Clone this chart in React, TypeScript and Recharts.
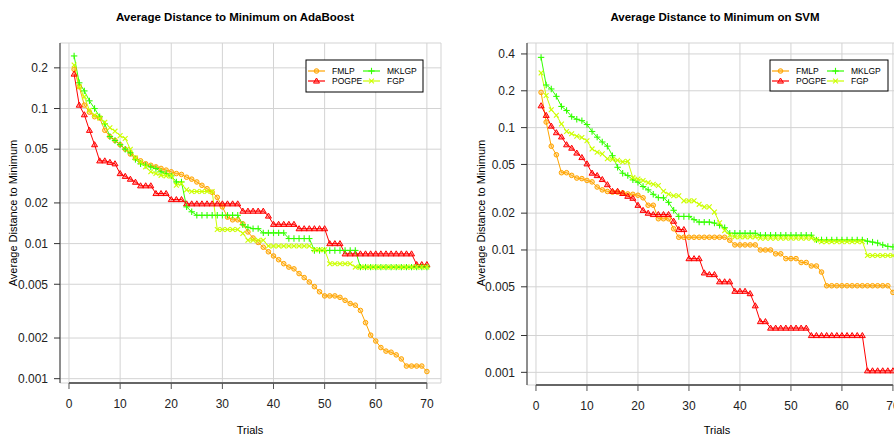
import * as React from 'react';
import { LineChart, Line, XAxis, YAxis, CartesianGrid, ReferenceLine } from 'recharts';

// Trials 1..70 and the four methods
const trials = [
  1, 2, 3, 4, 5, 6, 7, 8, 9, 10, 11, 12, 13, 14, 15, 16, 17, 18, 19, 20,
  21, 22, 23, 24, 25, 26, 27, 28, 29, 30, 31, 32, 33, 34, 35, 36, 37, 38, 39, 40,
  41, 42, 43, 44, 45, 46, 47, 48, 49, 50, 51, 52, 53, 54, 55, 56, 57, 58, 59, 60,
  61, 62, 63, 64, 65, 66, 67, 68, 69, 70,
];
const xTicks = [0, 10, 20, 30, 40, 50, 60, 70];

// AdaBoost
const adaFMLP = [
  0.195, 0.145, 0.106, 0.094, 0.087, 0.085, 0.069, 0.062, 0.058, 0.054,
  0.05, 0.046, 0.043, 0.041, 0.039, 0.038, 0.037, 0.036, 0.035, 0.034,
  0.033, 0.0325, 0.031, 0.03, 0.0286, 0.027, 0.0255, 0.024, 0.022, 0.0187,
  0.0157, 0.015, 0.015, 0.014, 0.0122, 0.011, 0.0102, 0.0094, 0.0087, 0.0081,
  0.0076, 0.0071, 0.0067, 0.0065, 0.006, 0.0056, 0.0052, 0.0048, 0.0044, 0.0041,
  0.0041, 0.0041, 0.004, 0.0038, 0.0036, 0.0035, 0.0032, 0.0026, 0.0021, 0.0019,
  0.0017, 0.0016, 0.00157, 0.0015, 0.0014, 0.00124, 0.00124, 0.00124, 0.00124, 0.00113,
];
const adaPOGPE = [
  0.18, 0.106, 0.09, 0.069, 0.054, 0.041, 0.041, 0.04, 0.039, 0.033,
  0.0315, 0.03, 0.0285, 0.0268, 0.0268, 0.0268, 0.0235, 0.0235, 0.0235, 0.0212,
  0.0212, 0.0212, 0.0197, 0.0197, 0.0197, 0.0197, 0.0197, 0.0197, 0.0197, 0.0197,
  0.0197, 0.0197, 0.0197, 0.0174, 0.0174, 0.0174, 0.0174, 0.0174, 0.016, 0.0139,
  0.0139, 0.0139, 0.0139, 0.0139, 0.0129, 0.0129, 0.0129, 0.0129, 0.0129, 0.0129,
  0.01, 0.01, 0.01, 0.0084, 0.0084, 0.0084, 0.0084, 0.0084, 0.0084, 0.0084,
  0.0084, 0.0084, 0.0084, 0.0084, 0.0084, 0.0084, 0.0084, 0.007, 0.007, 0.007,
];
const adaMKLGP = [
  0.245, 0.155, 0.135, 0.114, 0.1, 0.087, 0.077, 0.062, 0.058, 0.054,
  0.05, 0.047, 0.042, 0.039, 0.038, 0.037, 0.036, 0.034, 0.033, 0.0317,
  0.0286, 0.0286, 0.0187, 0.0172, 0.0162, 0.0162, 0.0162, 0.0162, 0.0162, 0.0162,
  0.0162, 0.0162, 0.0162, 0.0138, 0.0132, 0.0129, 0.0129, 0.012, 0.012, 0.012,
  0.012, 0.012, 0.0109, 0.0109, 0.0109, 0.0109, 0.0109, 0.0089, 0.0089, 0.0089,
  0.0089, 0.0089, 0.0089, 0.0089, 0.0089, 0.0089, 0.0067, 0.0067, 0.0067, 0.0067,
  0.0067, 0.0067, 0.0067, 0.0067, 0.0067, 0.0067, 0.0067, 0.0067, 0.0067, 0.0067,
];
const adaFGP = [
  0.21, 0.145, 0.122, 0.097, 0.089, 0.085, 0.079, 0.072, 0.068, 0.063,
  0.06, 0.05, 0.043, 0.04, 0.037, 0.034, 0.033, 0.032, 0.0317, 0.0317,
  0.027, 0.0278, 0.025, 0.0243, 0.0243, 0.0243, 0.0243, 0.0243, 0.0127, 0.0127,
  0.0127, 0.0127, 0.0127, 0.0119, 0.0106, 0.0106, 0.0106, 0.0106, 0.0096, 0.0096,
  0.0096, 0.0096, 0.0096, 0.0096, 0.0096, 0.0096, 0.0096, 0.009, 0.009, 0.009,
  0.0071, 0.0071, 0.0071, 0.0071, 0.0071, 0.0067, 0.0067, 0.0067, 0.0067, 0.0067,
  0.0067, 0.0067, 0.0067, 0.0067, 0.0067, 0.0067, 0.0067, 0.0067, 0.0067, 0.0067,
];

// SVM
const svmFMLP = [
  0.194, 0.111, 0.0705, 0.06, 0.0428, 0.0428, 0.0407, 0.0387, 0.0383, 0.037,
  0.036, 0.0327, 0.031, 0.0301, 0.0297, 0.0297, 0.0293, 0.0287, 0.0285, 0.028,
  0.0267, 0.0232, 0.0232, 0.018, 0.018, 0.018, 0.0149, 0.0127, 0.0127, 0.0127,
  0.0127, 0.0127, 0.0127, 0.0127, 0.0127, 0.0127, 0.0127, 0.012, 0.011, 0.011,
  0.011, 0.011, 0.011, 0.01, 0.01, 0.01, 0.0093, 0.0093, 0.0085, 0.0085,
  0.0085, 0.0079, 0.0079, 0.0074, 0.0074, 0.0066, 0.0051, 0.0051, 0.0051, 0.0051,
  0.0051, 0.0051, 0.0051, 0.0051, 0.0051, 0.0051, 0.0051, 0.0051, 0.0051, 0.0045,
];
const svmPOGPE = [
  0.151, 0.126, 0.103, 0.091, 0.084, 0.0725, 0.068, 0.062, 0.057, 0.0506,
  0.0425, 0.0406, 0.0377, 0.0342, 0.0302, 0.0302, 0.029, 0.0275, 0.0265, 0.0232,
  0.0211, 0.02, 0.0195, 0.0195, 0.0195, 0.0195, 0.0172, 0.0147, 0.0147, 0.0085,
  0.0085, 0.0085, 0.0065, 0.0063, 0.0063, 0.0055, 0.0055, 0.0055, 0.0046, 0.0046,
  0.0046, 0.0044, 0.0035, 0.0026, 0.0026, 0.0023, 0.0023, 0.0023, 0.0023, 0.0023,
  0.0023, 0.0023, 0.0023, 0.002, 0.002, 0.002, 0.002, 0.002, 0.002, 0.002,
  0.002, 0.002, 0.002, 0.002, 0.00103, 0.00103, 0.00103, 0.00103, 0.00103, 0.00103,
];
const svmMKLGP = [
  0.375, 0.223, 0.207, 0.18, 0.149, 0.138, 0.123, 0.117, 0.114, 0.106,
  0.093, 0.0836, 0.0763, 0.0705, 0.059, 0.0474, 0.0424, 0.0406, 0.0374, 0.0358,
  0.033, 0.031, 0.0285, 0.0268, 0.0267, 0.0245, 0.0211, 0.0188, 0.0188, 0.0188,
  0.0177, 0.0169, 0.0169, 0.0169, 0.0166, 0.0159, 0.0152, 0.0137, 0.0137, 0.0137,
  0.0137, 0.0137, 0.0137, 0.0132, 0.0132, 0.0132, 0.0132, 0.0132, 0.0132, 0.0132,
  0.0132, 0.0132, 0.0132, 0.0132, 0.0121, 0.0121, 0.0121, 0.0121, 0.0121, 0.0121,
  0.0121, 0.0121, 0.0121, 0.0121, 0.0118, 0.0116, 0.0114, 0.011, 0.0107, 0.0106,
];
const svmFGP = [
  0.28, 0.183, 0.14, 0.126, 0.107, 0.093, 0.089, 0.085, 0.083, 0.078,
  0.067, 0.063, 0.061, 0.0556, 0.055, 0.054, 0.0525, 0.053, 0.039, 0.038,
  0.037, 0.0355, 0.0344, 0.0337, 0.0302, 0.0285, 0.0277, 0.0277, 0.0252, 0.0252,
  0.0252, 0.0236, 0.0225, 0.0225, 0.0204, 0.0167, 0.0144, 0.0132, 0.0128, 0.0128,
  0.0128, 0.0128, 0.0128, 0.0125, 0.0125, 0.0125, 0.0125, 0.0125, 0.0125, 0.0125,
  0.0125, 0.0125, 0.0125, 0.0125, 0.0121, 0.0117, 0.0117, 0.0117, 0.0117, 0.0117,
  0.0117, 0.0117, 0.0117, 0.0117, 0.009, 0.009, 0.009, 0.009, 0.009, 0.009,
];

const adaTicks = [0.001, 0.002, 0.005, 0.01, 0.02, 0.05, 0.1, 0.2];
const svmTicks = [0.001, 0.002, 0.005, 0.01, 0.02, 0.05, 0.1, 0.2, 0.4];

const FONT = '"Liberation Sans", Arial, Helvetica, sans-serif';

const series = [
  { key: 'FMLP', color: '#FFA500', shape: 'circle' },
  { key: 'POGPE', color: '#FF0000', shape: 'triangle' },
  { key: 'MKLGP', color: '#33FF00', shape: 'plus' },
  { key: 'FGP', color: '#CCFF00', shape: 'cross' },
];

function Marker({ shape, color, cx, cy }: { shape: string; color: string; cx: number; cy: number }) {
  if (shape === 'circle') {
    return <circle cx={cx} cy={cy} r={2.3} fill={color} fillOpacity={0.35} stroke={color} strokeWidth={1} />;
  }
  if (shape === 'triangle') {
    const s = 3;
    return (
      <polygon
        points={`${cx},${cy - s} ${cx - s},${cy + s * 0.7} ${cx + s},${cy + s * 0.7}`}
        fill={color}
        fillOpacity={0.35}
        stroke={color}
        strokeWidth={1}
      />
    );
  }
  if (shape === 'plus') {
    const s = 3.2;
    return (
      <g stroke={color} strokeWidth={1.1}>
        <line x1={cx - s} y1={cy} x2={cx + s} y2={cy} />
        <line x1={cx} y1={cy - s} x2={cx} y2={cy + s} />
      </g>
    );
  }
  const s = 2.4;
  return (
    <g stroke={color} strokeWidth={1.1}>
      <line x1={cx - s} y1={cy - s} x2={cx + s} y2={cy + s} />
      <line x1={cx - s} y1={cy + s} x2={cx + s} y2={cy - s} />
    </g>
  );
}

function makeDot(shape: string, color: string) {
  return (props: any) => {
    const { cx, cy, index } = props;
    if (cx == null || cy == null) return <g key={`m-${index}`} />;
    return <Marker key={`m-${index}`} shape={shape} color={color} cx={cx} cy={cy} />;
  };
}

function LegendBox({ x, y, w, h }: { x: number; y: number; w: number; h: number }) {
  const cols = [
    { dx: 2, items: [series[0], series[1]] },
    { dx: 57, items: [series[2], series[3]] },
  ];
  return (
    <g>
      <rect x={x} y={y} width={w} height={h} fill="#fff" stroke="#000" strokeWidth={1} />
      {cols.map((col) =>
        col.items.map((s, r) => {
          const ly = y + 11 + r * 10;
          const lx = x + col.dx;
          return (
            <g key={s.key}>
              <line x1={lx} y1={ly} x2={lx + 17} y2={ly} stroke={s.color} strokeWidth={1.2} />
              <Marker shape={s.shape} color={s.color} cx={lx + 8.5} cy={ly} />
              <text x={lx + 24} y={ly + 3} fontSize={8.5} fontFamily={FONT} fill="#000">
                {s.key}
              </text>
            </g>
          );
        })
      )}
    </g>
  );
}

function Panel(props: {
  left: number;
  rows: any[];
  yDomain: [number, number];
  yTicks: number[];
  marginRight: number;
  marginBottom: number;
}) {
  const { left, rows, yDomain, yTicks, marginRight, marginBottom } = props;
  return (
    <div style={{ position: 'absolute', left, top: 0 }}>
      <LineChart
        width={447}
        height={435}
        data={rows}
        margin={{ top: 43, right: marginRight, bottom: marginBottom, left: 0 }}
        style={{ fontFamily: FONT }}
      >
        <CartesianGrid stroke="#d3d3d3" strokeWidth={1} />
        <XAxis
          dataKey="trial"
          type="number"
          domain={[-1.76, 72.76]}
          ticks={xTicks}
          allowDataOverflow
          height={30}
          axisLine={false}
          tickLine={{ stroke: '#555' }}
          tickSize={6}
          tickMargin={10}
          tick={{ fontSize: 12, fill: '#222' }}
        />
        <YAxis
          scale="log"
          domain={yDomain}
          ticks={yTicks}
          allowDataOverflow
          width={60}
          axisLine={{ stroke: '#333' }}
          tickLine={{ stroke: '#333' }}
          tickSize={6}
          tickMargin={6}
          tick={{ fontSize: 12, fill: '#222' }}
          tickFormatter={(v: number) => String(v)}
        />
        <ReferenceLine
          segment={[
            { x: 0, y: yDomain[0] },
            { x: 70, y: yDomain[0] },
          ]}
          stroke="#666"
          strokeWidth={2}
          ifOverflow="visible"
        />
        {series.map((s) => (
          <Line
            key={s.key}
            type="linear"
            dataKey={s.key}
            stroke={s.color}
            strokeWidth={1}
            dot={makeDot(s.shape, s.color)}
            activeDot={false}
            isAnimationActive={false}
          />
        ))}
      </LineChart>
    </div>
  );
}

const adaRows = trials.map((t, i) => ({
  trial: t,
  FMLP: adaFMLP[i],
  POGPE: adaPOGPE[i],
  MKLGP: adaMKLGP[i],
  FGP: adaFGP[i],
}));
const svmRows = trials.map((t, i) => ({
  trial: t,
  FMLP: svmFMLP[i],
  POGPE: svmPOGPE[i],
  MKLGP: svmMKLGP[i],
  FGP: svmFGP[i],
}));

export default function App() {
  return (
    <div
      style={{
        position: 'absolute',
        left: 0,
        top: 0,
        width: 894,
        height: 435,
        overflow: 'hidden',
        background: '#fff',
      }}
    >
      <Panel left={0} rows={adaRows} yDomain={[0.000929, 0.3055]} yTicks={adaTicks} marginRight={6} marginBottom={22} />
      <Panel left={467} rows={svmRows} yDomain={[0.000788, 0.4915]} yTicks={svmTicks} marginRight={7} marginBottom={20} />
      <svg
        width={894}
        height={435}
        style={{ position: 'absolute', left: 0, top: 0, pointerEvents: 'none' }}
      >
        <g fontFamily={FONT} fill="#000">
          <text x={235} y={21} fontSize={11.5} fontWeight="bold" textAnchor="middle">
            Average Distance to Minimum on AdaBoost
          </text>
          <text x={715} y={21} fontSize={11.5} fontWeight="bold" textAnchor="middle">
            Average Distance to Minimum on SVM
          </text>
          <text x={250} y={434} fontSize={11} textAnchor="middle">
            Trials
          </text>
          <text x={717} y={434} fontSize={11} textAnchor="middle">
            Trials
          </text>
          <text x={17} y={213} fontSize={11} textAnchor="middle" transform="rotate(-90 17 213)">
            Average Distance to Minimum
          </text>
          <text x={485} y={213} fontSize={11} textAnchor="middle" transform="rotate(-90 485 213)">
            Average Distance to Minimum
          </text>
        </g>
        <LegendBox x={306} y={60} w={117} h={32} />
        <LegendBox x={770} y={60} w={118} h={31} />
      </svg>
    </div>
  );
}
